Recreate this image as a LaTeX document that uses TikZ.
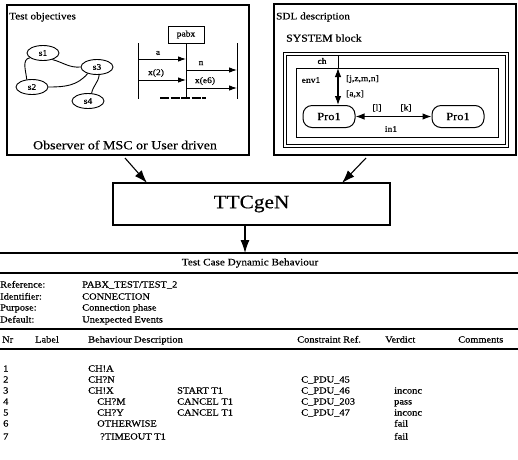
\documentclass[tikz,border=0pt]{standalone}
\usepackage{fontspec}
\setmainfont[FakeStretch=1.12, FakeBold=0.5]{Liberation Serif}
\usetikzlibrary{arrows.meta,shapes.geometric}
\begin{document}
\begin{tikzpicture}[x=1pt,y=1pt,
 frame/.style={draw, line width=1.4pt, inner sep=0pt, outer sep=0pt},
 thinframe/.style={draw, line width=0.9pt, inner sep=0pt, outer sep=0pt},
 st/.style={draw, ellipse, line width=0.9pt, minimum width=32pt, minimum height=15pt, inner sep=0pt, font=\fontsize{8.5}{9}\selectfont},
 lbl/.style={inner sep=0pt, font=\fontsize{8.5}{9}\selectfont},
 small/.style={inner sep=0pt, font=\fontsize{10}{11}\selectfont},
 tx/.style={inner sep=0pt, anchor=base west, font=\fontsize{9.3}{10}\selectfont},
 msg/.style={line width=0.9pt, -{Latex[length=8pt,width=5.5pt]}},
 big/.style={line width=1.1pt, -{Latex[length=13pt,width=9pt]}},
 proc/.style={draw, line width=1pt, rounded corners=9pt, minimum width=52pt, minimum height=22pt, inner sep=0pt, font=\fontsize{11}{12}\selectfont},
 rulethick/.style={line width=1.7pt},
]
\useasboundingbox (0,0) rectangle (518,-459);

% ---------- Test objectives box ----------
\node[frame, minimum width=242pt, minimum height=150pt] (obj) at (128,-80) {};
\node[small, anchor=west] (objt) at (9,-17) {Test objectives};
\node[st] (s1) at (43,-53) {s1};
\node[st] (s3) at (97,-67) {s3};
\node[st] (s2) at (32,-87) {s2};
\node[st] (s4) at (88,-101) {s4};
\draw[line width=0.9pt] (s1.-35) to[out=-15,in=185] (s3.west);
\draw[line width=0.9pt] (s1.200) to[out=190,in=95] (s2.125);
\draw[line width=0.9pt] (s2.east) to[out=0,in=230] (s3.215);
\draw[line width=0.9pt] (s3.-75) to[out=-95,in=80] (s4.65);

% MSC
\node[thinframe, minimum width=36pt, minimum height=17pt, font=\fontsize{8.5}{9}\selectfont] (pabx) at (186,-34.5) {pabx};
\coordinate (lt) at (138,-43); \coordinate (lb) at (138,-99);
\coordinate (rt) at (237,-43); \coordinate (rb) at (237,-99);
\coordinate (cb) at (186,-98);
\draw[line width=1pt] (lt) -- (lb);
\draw[line width=1pt] (rt) -- (rb);
\draw[line width=1pt] (pabx.south) -- (cb);
\coordinate (barl) at (160,-98); \coordinate (barr) at (206,-98);
\draw[line width=2.5pt, dash pattern=on 9pt off 1.5pt] (barl) -- (barr);
\coordinate (a1) at (138,-59); \coordinate (a2) at (186,-59);
\coordinate (x1) at (138,-80); \coordinate (x2) at (186,-80);
\coordinate (n1) at (186,-70); \coordinate (n2) at (237,-70);
\coordinate (e1) at (186,-88); \coordinate (e2) at (237,-88);
\draw[msg] (a1) -- (a2);
\draw[msg] (x1) -- (x2);
\draw[msg] (n1) -- (n2);
\draw[msg] (e1) -- (e2);
\node[lbl] (la) at (158,-53) {a};
\node[lbl] (lx) at (156,-73) {x(2)};
\node[lbl] (ln) at (201,-63) {n};
\node[lbl] (le) at (205,-81) {x(e6)};

\node[inner sep=0pt, font=\fontsize{12.5}{14}\selectfont] (obs) at (125,-145) {Observer of MSC or User driven};

% ---------- SDL box ----------
\node[frame, minimum width=242pt, minimum height=151pt] (sdl) at (395,-79.5) {};
\node[small, anchor=west] (sdlt) at (276,-17) {SDL description};
\node[inner sep=0pt, anchor=west, font=\fontsize{10.5}{11}\selectfont] (sysb) at (286,-38) {SYSTEM block};
\node[thinframe, minimum width=225pt, minimum height=95pt] (sys1) at (395.5,-99.5) {};
\node[thinframe, minimum width=219pt, minimum height=89pt] (sys2) at (395.5,-99.5) {};
\node[thinframe, minimum width=202pt, minimum height=69pt] (blk) at (397,-102.5) {};
\coordinate (cht) at (338,-55); \coordinate (chb) at (338,-68);
\draw[line width=0.9pt] (cht) -- (chb);
\node[lbl] (chl) at (322,-61) {ch};
\node[proc] (pl) at (329,-116.5) {Pro1};
\node[proc] (pr) at (458,-116.5) {Pro1};
\draw[line width=1.1pt, {Latex[length=9pt,width=6.5pt]}-{Latex[length=9pt,width=6.5pt]}] (chb) -- (chb |- pl.north);
\draw[line width=1.1pt, {Latex[length=9pt,width=6.5pt]}-{Latex[length=9pt,width=6.5pt]}] (pl) -- (pr);
\node[lbl] (env) at (311,-80) {env1};
\node[lbl, anchor=west] (sig1) at (346,-79) {[j,z,m,n]};
\node[lbl, anchor=west] (sig2) at (346,-94) {[a,x]};
\node[lbl] (sl) at (377,-108) {[l]};
\node[lbl] (sk) at (406,-108) {[k]};
\node[lbl] (in1) at (391,-129) {in1};

% ---------- TTCgeN ----------
\node[frame, minimum width=277pt, minimum height=42pt, font=\fontsize{19}{20}\selectfont] (ttc) at (251.5,-204) {TTCgeN};
\coordinate (o1) at (125,-158); \coordinate (o2) at (147,-183);
\coordinate (d1) at (366,-158); \coordinate (d2) at (342,-183);
\draw[big] (o1) -- (o2);
\draw[big] (d1) -- (d2);
\coordinate (t1) at (245,-225); \coordinate (t2) at (245,-253);
\draw[big] (t1) -- (t2);

% ---------- Table ----------
\draw[rulethick] (0,-253) -- (518,-253);
\node[inner sep=0pt, font=\fontsize{10}{11}\selectfont] (title) at (250,-263) {Test Case Dynamic Behaviour};
\draw[rulethick] (0,-273) -- (518,-273);

\node[tx] at (0,-287.5) {Reference:};   \node[tx] at (82,-287.5) {PABX\_TEST/TEST\_2};
\node[tx] at (0,-299.5) {Identifier:};  \node[tx] at (82,-299.5) {CONNECTION};
\node[tx] at (0,-310.5) {Purpose:};     \node[tx] at (82,-310.5) {Connection phase};
\node[tx] at (0,-322.5) {Default:};     \node[tx] at (82,-322.5) {Unexpected Events};
\draw[line width=1.3pt] (0,-329) -- (518,-329);

\node[tx] at (2,-342.5) {Nr};
\node[tx] at (35,-342.5) {Label};
\node[tx] at (88,-342.5) {Behaviour Description};
\node[tx] at (297,-342.5) {Constraint Ref.};
\node[tx] at (385,-342.5) {Verdict};
\node[tx] at (458,-342.5) {Comments};
\draw[rulethick] (0,-349) -- (518,-349);

\node[tx] at (3,-371.5) {1}; \node[tx] at (88,-371.5) {CH!A};
\node[tx] at (3,-382.5) {2}; \node[tx] at (88,-382.5) {CH?N}; \node[tx] at (301,-382.5) {C\_PDU\_45};
\node[tx] at (3,-393.5) {3}; \node[tx] at (88,-393.5) {CH!X}; \node[tx] at (177,-393.5) {START T1}; \node[tx] at (301,-393.5) {C\_PDU\_46}; \node[tx] at (394,-393.5) {inconc};
\node[tx] at (3,-404.5) {4}; \node[tx] at (97,-404.5) {CH?M}; \node[tx] at (177,-404.5) {CANCEL T1}; \node[tx] at (301,-404.5) {C\_PDU\_203}; \node[tx] at (394,-404.5) {pass};
\node[tx] at (3,-415.5) {5}; \node[tx] at (97,-415.5) {CH?Y}; \node[tx] at (177,-415.5) {CANCEL T1}; \node[tx] at (301,-415.5) {C\_PDU\_47}; \node[tx] at (394,-415.5) {inconc};
\node[tx] at (3,-426.5) {6}; \node[tx] at (97,-426.5) {OTHERWISE}; \node[tx] at (394,-426.5) {fail};
\node[tx] at (3,-439.5) {7}; \node[tx] at (100,-439.5) {?TIMEOUT T1}; \node[tx] at (394,-439.5) {fail};
\end{tikzpicture}
\end{document}
